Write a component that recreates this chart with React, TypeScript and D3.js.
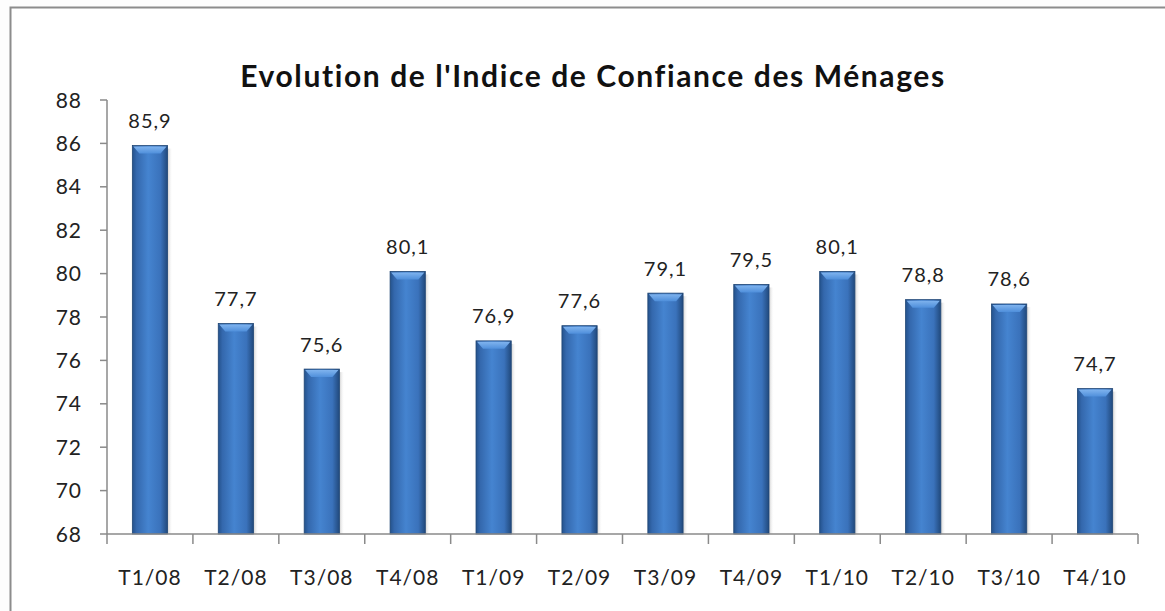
import React from "react";
import * as d3 from "d3";

const categories = ["T1/08","T2/08","T3/08","T4/08","T1/09","T2/09","T3/09","T4/09","T1/10","T2/10","T3/10","T4/10"];
const values = [85.9,77.7,75.6,80.1,76.9,77.6,79.1,79.5,80.1,78.8,78.6,74.7];
const yTicks = [68,70,72,74,76,78,80,82,84,86,88];
const title = "Evolution de l'Indice de Confiance des Ménages";

const W = 1165, H = 611;
const left = 107, right = 1138, top = 100, bottom = 534;
const font = "Lato, 'Open Sans', sans-serif";

export default function App() {
  const x = d3.scaleBand<string>().domain(categories).range([left, right]).paddingInner(0.59).paddingOuter(0.295);
  const xb = d3.scaleBand<string>().domain(categories).range([left, right]);
  const y = d3.scaleLinear().domain([68, 88]).range([bottom, top]);
  const fmt = (v: number) => v.toFixed(1).replace(".", ",");
  const bw = x.bandwidth();
  return (
    <svg width={W} height={H} style={{ position: "absolute", left: 0, top: 0, background: "#fff" }}>
      <defs>
        <linearGradient id="barg" x1="0" x2="1" y1="0" y2="0">
          <stop offset="0" stopColor="#24528c" />
          <stop offset="0.12" stopColor="#3468ad" />
          <stop offset="0.45" stopColor="#4584d0" />
          <stop offset="0.8" stopColor="#3a72bb" />
          <stop offset="1" stopColor="#21497c" />
        </linearGradient>
        <linearGradient id="capg" x1="0" x2="0" y1="0" y2="1">
          <stop offset="0" stopColor="#7fb3ee" />
          <stop offset="1" stopColor="#4f8fdb" />
        </linearGradient>
        <linearGradient id="shadowg" x1="0" x2="1" y1="0" y2="0">
          <stop offset="0" stopColor="#b8b8b8" stopOpacity="0.7" />
          <stop offset="1" stopColor="#ffffff" stopOpacity="0" />
        </linearGradient>
      </defs>
      <rect x={0} y={0} width={W} height={H} fill="#fdfdfd" />
      <rect x={10.5} y={7.5} width={W + 20} height={H + 20} fill="#ffffff" stroke="#8c8c8c" strokeWidth={2} />
      <text x={593} y={87} textAnchor="middle" fontFamily={font} fontWeight="bold" fontSize={30} letterSpacing={1.6} fill="#111">{title}</text>
      {/* y axis */}
      <line x1={left} x2={left} y1={top} y2={bottom} stroke="#8a8a8a" strokeWidth={1.5} />
      {yTicks.map(t => (
        <g key={t}>
          <line x1={left - 7} x2={left} y1={y(t)} y2={y(t)} stroke="#8a8a8a" strokeWidth={1.5} />
          <text x={82} y={y(t) + 7.5} textAnchor="end" fontFamily={font} fontSize={21} letterSpacing={1} fill="#222">{t}</text>
        </g>
      ))}
      {/* bars */}
      {categories.map((c, i) => {
        const bx = x(c)!;
        const by = y(values[i]);
        const bh = bottom - by;
        return (
          <g key={c}>
            <rect x={bx + bw} y={by + 3} width={5} height={bh - 3} fill="url(#shadowg)" />
            <rect x={bx} y={by} width={bw} height={bh} fill="url(#barg)" stroke="#1f4574" strokeWidth={0.8} />
            <path d={`M${bx + 1},${by + 1} L${bx + bw - 1},${by + 1} L${bx + bw - 7},${by + 8} L${bx + 7},${by + 8} Z`} fill="url(#capg)" />
            <text x={bx + bw / 2} y={by - 17.5} textAnchor="middle" fontFamily={font} fontSize={20} letterSpacing={1} fill="#222">{fmt(values[i])}</text>
          </g>
        );
      })}
      {/* x axis */}
      <line x1={left} x2={right} y1={bottom} y2={bottom} stroke="#8a8a8a" strokeWidth={1.5} />
      {[...categories.map(c => xb(c)!), right].map((t, i) => (
        <line key={i} x1={t} x2={t} y1={bottom} y2={bottom + 10} stroke="#8a8a8a" strokeWidth={1.5} />
      ))}
      {categories.map(c => (
        <text key={c} x={xb(c)! + xb.bandwidth() / 2} y={585} textAnchor="middle" fontFamily={font} fontSize={21} letterSpacing={1} fill="#222">{c}</text>
      ))}
    </svg>
  );
}
